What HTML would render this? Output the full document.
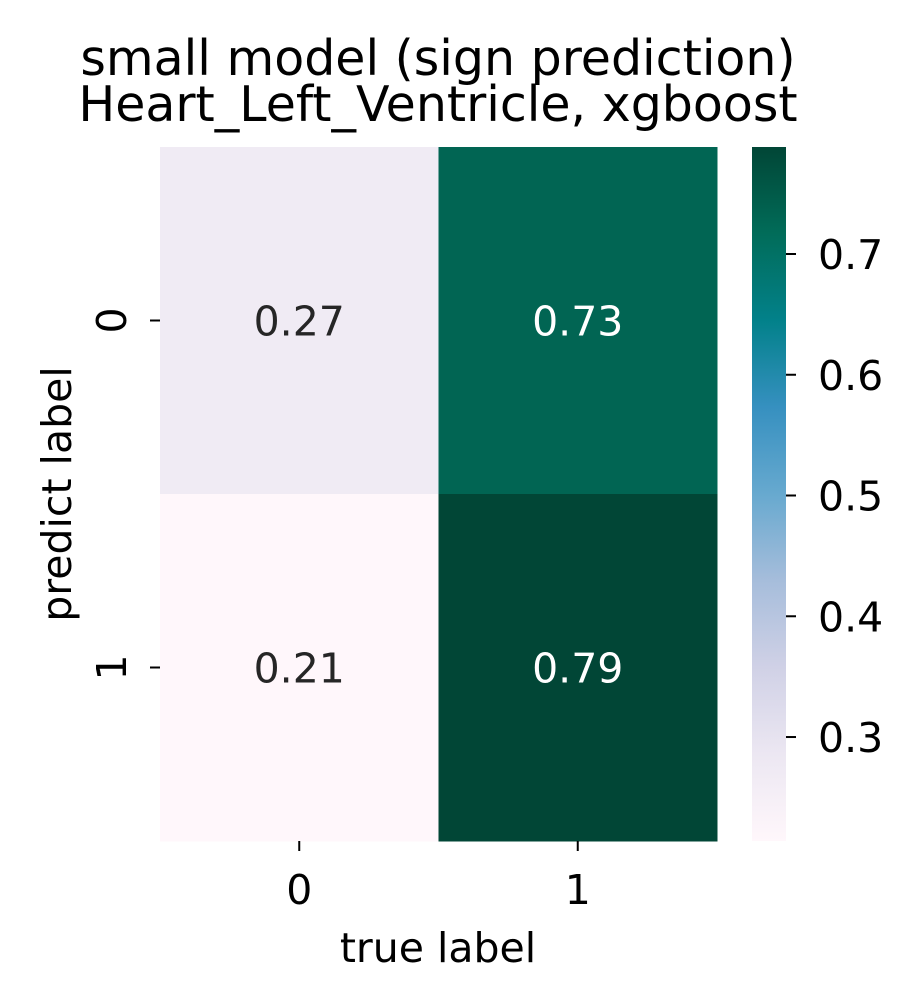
<!DOCTYPE html>
<html><head><meta charset="utf-8"><style>
body{margin:0;background:#fff;}
svg{display:block;font-family:"DejaVu Sans","Liberation Sans",sans-serif;}
</style></head><body>
<svg id="chart" width="912" height="1001">
<defs>
<linearGradient id="cbgrad" x1="0" y1="1" x2="0" y2="0">
<stop offset="0" stop-color="#fff7fb"/><stop offset="0.125" stop-color="#ece7f2"/><stop offset="0.25" stop-color="#d0d1e6"/><stop offset="0.375" stop-color="#a6bddb"/><stop offset="0.5" stop-color="#67a9cf"/><stop offset="0.625" stop-color="#3690c0"/><stop offset="0.75" stop-color="#02818a"/><stop offset="0.875" stop-color="#016c59"/><stop offset="1" stop-color="#014636"/>
</linearGradient>
</defs>
<text x="438" y="75" font-size="49" text-anchor="middle">small model (sign prediction)</text>
<text x="438" y="121" font-size="49" text-anchor="middle">Heart_Left_Ventricle, xgboost</text>
<g id="cells"></g>
<g id="axes"></g>
<rect x="752" y="147" width="34" height="694" fill="url(#cbgrad)"/>
<g id="cbticks"></g>
<text x="438" y="962" font-size="41" text-anchor="middle">true label</text>
<text transform="translate(71,494) rotate(-90)" font-size="41" text-anchor="middle">predict label</text>
</svg>
<script>
const xCategories=["0","1"];
const yCategories=["0","1"];
const values=[[0.27,0.73],[0.21,0.79]];
const cbTicks=[0.3,0.4,0.5,0.6,0.7];
const vmin=0.2139, vmax=0.7886;
const stops=["#fff7fb","#ece7f2","#d0d1e6","#a6bddb","#67a9cf","#3690c0","#02818a","#016c59","#014636"];
const NS="http://www.w3.org/2000/svg";
const X0=160,X1=717,Y0=147,Y1=841;
function hex(h){return [1,3,5].map(i=>parseInt(h.substr(i,2),16));}
function cmap(v){let t=Math.max(0,Math.min(1,(v-vmin)/(vmax-vmin)))*(stops.length-1);let i=Math.min(Math.floor(t),stops.length-2);let f=t-i;let a=hex(stops[i]),b=hex(stops[i+1]);return "rgb("+a.map((c,k)=>Math.round(c+(b[k]-c)*f)).join(",")+")";}
function el(tag,attrs,parent,txt){const e=document.createElementNS(NS,tag);for(const k in attrs)e.setAttribute(k,attrs[k]);if(txt!==undefined)e.textContent=txt;parent.appendChild(e);return e;}
const cw=(X1-X0)/xCategories.length, ch=(Y1-Y0)/yCategories.length;
const cells=document.getElementById('cells'), axes=document.getElementById('axes'), cbt=document.getElementById('cbticks');
yCategories.forEach((yc,r)=>{xCategories.forEach((xc,c)=>{
 const v=values[r][c];
 const rect=el('rect',{x:X0+c*cw,y:Y0+r*ch,width:cw+0.5,height:ch+0.5,fill:cmap(v)},cells);
 
 
 const t=el('text',{x:X0+(c+0.5)*cw,y:Y0+(r+0.5)*ch+15,'font-size':41,'text-anchor':'middle',fill:(v-vmin)/(vmax-vmin)>0.5?'#ffffff':'#262626'},cells,v.toFixed(2));
 
 
});});
xCategories.forEach((xc,c)=>{const x=X0+(c+0.5)*cw;
 el('line',{x1:x,x2:x,y1:Y1,y2:Y1+10,stroke:'#000','stroke-width':2},axes);
 const t=el('text',{x:x,y:Y1+63,'font-size':41,'text-anchor':'middle'},axes,xc);
 
 });
yCategories.forEach((yc,r)=>{const y=Y0+(r+0.5)*ch;
 el('line',{x1:X0-10,x2:X0,y1:y,y2:y,stroke:'#000','stroke-width':2},axes);
 const t=el('text',{transform:'translate('+(X0-34)+','+y+') rotate(-90)','font-size':41,'text-anchor':'middle'},axes,yc);
 
 });
cbTicks.forEach(v=>{const y=Y1-(v-vmin)/(vmax-vmin)*(Y1-Y0);
 el('line',{x1:786,x2:796,y1:y,y2:y,stroke:'#000','stroke-width':2},cbt);
 const t=el('text',{x:818,y:y+15,'font-size':41},cbt,v.toFixed(1));
 
 });
</script>
</body></html>
